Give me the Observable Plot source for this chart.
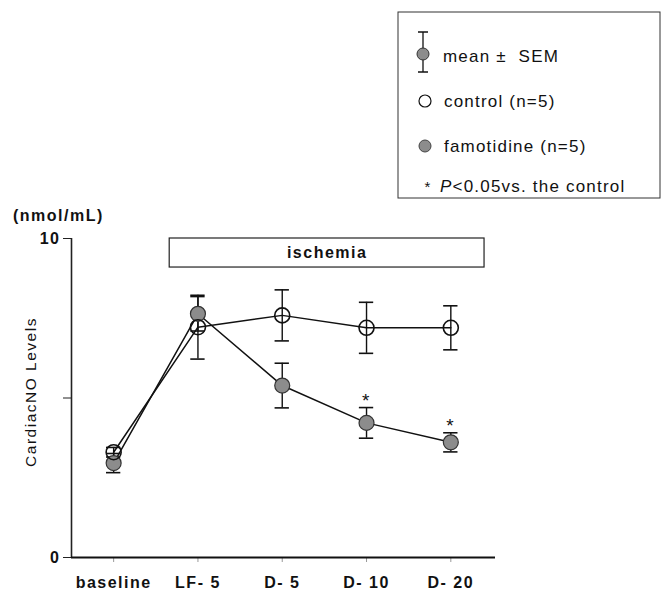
<!DOCTYPE html>
<html><head><meta charset="utf-8">
<script src="https://cdn.jsdelivr.net/npm/d3@7"></script>
<script src="https://cdn.jsdelivr.net/npm/@observablehq/plot@0.6"></script>
<style>
body{margin:0;background:#fff;}
#chart svg text{letter-spacing:1.5px;}
#chart svg g.legend text{letter-spacing:1.2px;}
</style></head><body><div id="chart"></div>
<script>
const categories = ["baseline", "LF- 5", "D- 5", "D- 10", "D- 20"];
const controlMean = [3.30, 7.22, 7.59, 7.20, 7.20];
const controlSem = [0.15, 1.00, 0.80, 0.80, 0.69];
const famotidineMean = [2.96, 7.64, 5.39, 4.22, 3.61];
const famotidineSem = [0.30, 0.54, 0.70, 0.48, 0.30];
const significant = [false, false, false, true, true];
const yTicks = [0, 5, 10];
const yTickLabels = ["0", "", "10"];
const ischemiaLabel = "ischemia";
const ischemiaFrom = 0.665;   // between baseline and LF-5
const ischemiaTo = 4.40;      // past D-20
const unitLabel = "(nmol/mL)";
const yLabel = "CardiacNO Levels";
const legendLabels = ["mean \u00b1  SEM", "control (n=5)", "famotidine (n=5)", "<0.05vs. the control"];

const xDomain = [-0.5, 4.53];
const rows = categories.flatMap((c, i) => [
  {i, cat: c, group: "control", mean: controlMean[i], sem: controlSem[i], sig: false},
  {i, cat: c, group: "famotidine", mean: famotidineMean[i], sem: famotidineSem[i], sig: significant[i]}
]);
const control = rows.filter(d => d.group === "control");
const famo = rows.filter(d => d.group === "famotidine");
const capHalf = 0.085;
const caps = rows.flatMap(d => [{i: d.i, v: d.mean - d.sem}, {i: d.i, v: d.mean + d.sem}]);
const FONT = "'Liberation Sans', Arial, Helvetica, sans-serif";

const chart = Plot.plot({
  width: 662, height: 592,
  marginLeft: 71, marginRight: 167, marginTop: 238, marginBottom: 35,
  style: {fontFamily: FONT, fontSize: "16px", color: "#111", background: "white"},
  x: {type: "linear", domain: xDomain},
  y: {domain: [0, 10]},
  marks: [
    Plot.rect([ischemiaLabel], {x1: ischemiaFrom, x2: ischemiaTo, y1: 9.09, y2: 10, fill: "white", stroke: "#222", strokeWidth: 1.2}),
    Plot.text([ischemiaLabel], {x: (ischemiaFrom + ischemiaTo) / 2, y: 9.545, text: d => d, fontWeight: "bold", fontSize: 16, fill: "#111"}),
    Plot.axisY({ticks: yTicks, tickFormat: (d) => yTickLabels[yTicks.indexOf(d)], tickSize: 8, tickPadding: 3, fontWeight: "bold", fontSize: 16, label: null, stroke: "#222"}),
    Plot.axisX({ticks: categories.map((c, i) => i), tickFormat: i => categories[i], tickSize: 5, tickPadding: 14, fontWeight: "bold", fontSize: 16, label: null, stroke: "#999"}),
    Plot.ruleX([xDomain[0]], {y1: 0, y2: 10, stroke: "#222", strokeWidth: 1.6}),
    Plot.ruleY([0], {x1: xDomain[0], x2: xDomain[1], stroke: "#111", strokeWidth: 2}),
    Plot.line(control, {x: "i", y: "mean", stroke: "#111", strokeWidth: 1.5}),
    Plot.line(famo, {x: "i", y: "mean", stroke: "#111", strokeWidth: 1.5}),
    Plot.ruleX(rows, {x: "i", y1: d => d.mean - d.sem, y2: d => d.mean + d.sem, stroke: "#111", strokeWidth: 1.4}),
    Plot.ruleY(caps, {y: "v", x1: d => d.i - capHalf, x2: d => d.i + capHalf, stroke: "#111", strokeWidth: 1.6}),
    Plot.dot(famo, {x: "i", y: "mean", r: 7.5, fill: "#8c8c8c", stroke: "#333", strokeWidth: 1.2}),
    Plot.dot(control, {x: "i", y: "mean", r: 7.5, fill: "none", stroke: "#111", strokeWidth: 1.6}),
    Plot.text(famo.filter(d => d.sig), {x: "i", y: d => d.mean + d.sem, text: () => "*", dy: -7, fontSize: 19, fill: "#111"})
  ]
});
document.getElementById("chart").appendChild(chart);

const svg = d3.select(chart);
// unit label and y label
svg.append("text").attr("x", 13).attr("y", 221).attr("text-anchor", "start").attr("font-weight", "bold").attr("font-size", 16)
  .attr("fill", "#111").text(unitLabel);
svg.append("text").attr("transform", "translate(36,392) rotate(-90)").attr("text-anchor", "middle")
  .attr("font-size", 15.5).attr("fill", "#111").text(yLabel);

// legend
const lg = svg.append("g").attr("class", "legend").attr("font-size", 17).attr("fill", "#111").attr("text-anchor", "start");
lg.append("rect").attr("x", 398).attr("y", 12).attr("width", 262).attr("height", 186)
  .attr("fill", "white").attr("stroke", "#333").attr("stroke-width", 1);
lg.append("line").attr("x1", 423).attr("x2", 423).attr("y1", 32).attr("y2", 72).attr("stroke", "#111").attr("stroke-width", 1.3);
lg.append("line").attr("x1", 418).attr("x2", 428).attr("y1", 32).attr("y2", 32).attr("stroke", "#111").attr("stroke-width", 1.5);
lg.append("line").attr("x1", 418).attr("x2", 428).attr("y1", 72).attr("y2", 72).attr("stroke", "#111").attr("stroke-width", 1.5);
lg.append("circle").attr("cx", 423).attr("cy", 54).attr("r", 6).attr("fill", "#8c8c8c").attr("stroke", "#333").attr("stroke-width", 1);
lg.append("text").attr("x", 443).attr("y", 62).text(legendLabels[0]);
lg.append("circle").attr("cx", 425).attr("cy", 101).attr("r", 6).attr("fill", "white").attr("stroke", "#111").attr("stroke-width", 1.2);
lg.append("text").attr("x", 444).attr("y", 107).text(legendLabels[1]);
lg.append("circle").attr("cx", 425).attr("cy", 146).attr("r", 6).attr("fill", "#8c8c8c").attr("stroke", "#444").attr("stroke-width", 1);
lg.append("text").attr("x", 444).attr("y", 152).text(legendLabels[2]);
lg.append("text").attr("x", 428).attr("y", 192).attr("text-anchor", "middle").attr("font-size", 15).text("*");
const pt = lg.append("text").attr("x", 440).attr("y", 192);
pt.append("tspan").attr("font-style", "italic").text("P");
pt.append("tspan").text(legendLabels[3]);
</script></body></html>
